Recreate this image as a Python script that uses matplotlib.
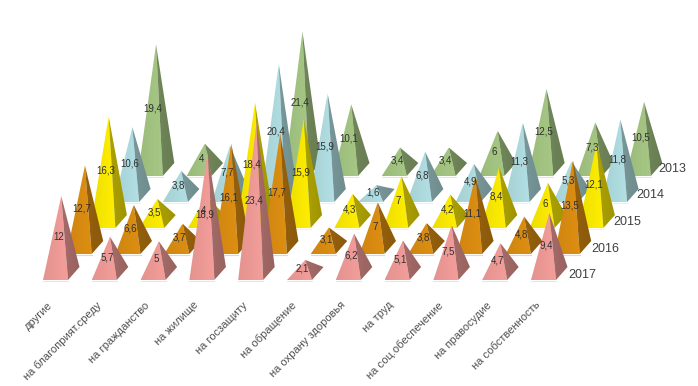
import matplotlib
matplotlib.use('Agg')
import matplotlib.pyplot as plt
import numpy as np
from matplotlib.patches import Polygon

categories = ['другие', 'на благоприят.среду', 'на гражданство', 'на жилище', 'на госзащиту',
              'на обращение', 'на охрану здоровья', 'на труд', 'на соц.обеспечение',
              'на правосудие', 'на собственность']
years = ['2013', '2014', '2015', '2016', '2017']

# None = column has no pyramid in that year
v2013 = [19.4, 4, None, 21.4, 10.1, 3.4, 3.4, 6, 12.5, 7.3, 10.5]
v2014 = [10.6, 3.8, 7.7, 20.4, 15.9, 1.6, 6.8, 4.9, 11.3, 5.3, 11.8]
v2015 = [16.3, 3.5, 4, 18.4, 15.9, 4.3, 7, 4.2, 8.4, 6, 12.1]
v2016 = [12.7, 6.6, 3.7, 16.1, 17.7, 3.1, 7, 3.8, 11.1, 4.8, 13.5]
v2017 = [12, 5.7, 5, 18.9, 23.4, 2.1, 6.2, 5.1, 7.5, 4.7, 9.4]
all_values = [v2013, v2014, v2015, v2016, v2017]

colors = ['#a6c884', '#b2e0e4', '#ffee00', '#de8f12', '#f49e9a']

plt.rcParams['font.family'] = ['Liberation Sans', 'DejaVu Sans']

W, H = 698, 386
STEP_X = 48.8   # column step
ROW_DX = 23.7   # each year further back
ROW_DY = 26.0
FRONT_W = 25.0
SIDE_DX = 11.5
SIDE_DY = 13.0
UNIT = 6.45     # pixels per value unit
X0, Y0 = 43.0, 280.0

fig = plt.figure(figsize=(W / 100, H / 100), dpi=100)
ax = fig.add_axes([0, 0, 1, 1])
ax.set_xlim(0, W)
ax.set_ylim(H, 0)
ax.axis('off')


def shade(pts, color, left, right, z):
    # face filled by a left to right gradient, clipped to the triangle
    pts = np.array(pts)
    c = np.array(matplotlib.colors.to_rgb(color))
    g = np.linspace(left, right, 32)[None, :, None] * c
    x0, x1 = pts[:, 0].min(), pts[:, 0].max()
    y0, y1 = pts[:, 1].min(), pts[:, 1].max()
    im = ax.imshow(np.clip(g, 0, 1), extent=[x0, x1, y1, y0], aspect='auto', zorder=z,
                   interpolation='nearest')
    im.set_clip_path(Polygon(pts, closed=True, transform=ax.transData))


labels = []
z = 1
for r in range(len(years)):
    back = len(years) - 1 - r
    base_y = Y0 - back * ROW_DY
    for i, val in enumerate(all_values[r]):
        if val is None:
            continue
        fl = X0 + i * STEP_X + back * ROW_DX
        fr = fl + FRONT_W
        br = fr + SIDE_DX
        ax_x = (fl + br) / 2
        ax_y = base_y - SIDE_DY / 2 - val * UNIT
        shade([(fl, base_y), (fr, base_y), (ax_x, ax_y)], colors[r], 0.93, 1.0, z)
        shade([(fr, base_y), (br, base_y - SIDE_DY), (ax_x, ax_y)], colors[r], 0.68, 0.62, z)
        ax.plot([fl, fr], [base_y + 1, base_y + 1], color=colors[r], lw=0.8, alpha=0.35, zorder=z)
        labels.append((ax_x - 3, (base_y - SIDE_DY / 2 + ax_y) / 2 + 2,
                       str(val).replace('.', ',')))
        z += 1
    # year label at the end of its row
    ax.text(br + 1 - back * 1.2, base_y - 5 - back * 0.5, years[r], fontsize=9, color='#404040',
            ha='left', va='center', zorder=500)

for x, y, s in labels:
    ax.text(x, y, s, fontsize=7, color='#303030', ha='center', va='center', zorder=500)

for i, name in enumerate(categories):
    ax.text(X0 + i * STEP_X + 4, 300, name, fontsize=8, color='#505050', rotation=45,
            ha='right', va='top', rotation_mode='anchor', zorder=500)

ax.set_xlim(0, W)
ax.set_ylim(H, 0)
fig.savefig('out.png', dpi=100)
